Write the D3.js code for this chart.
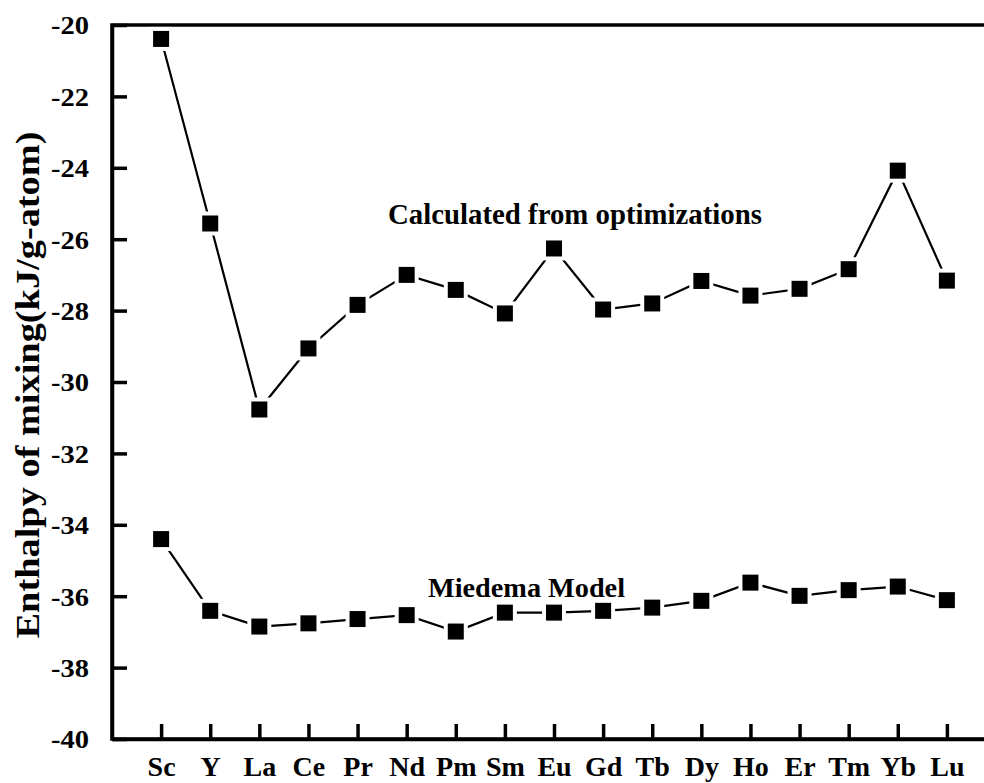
<!DOCTYPE html>
<html>
<head>
<meta charset="utf-8">
<script src="https://cdn.jsdelivr.net/npm/d3@7"></script>
<style>
  body { margin: 0; background: #fff; }
  text { font-family: "Liberation Serif", "Times New Roman", serif; font-weight: bold; fill: #000; }
</style>
</head>
<body>
<svg id="chart" width="984" height="783"></svg>
<script>
// element on the x axis
var elements = ["Sc", "Y", "La", "Ce", "Pr", "Nd", "Pm", "Sm", "Eu", "Gd", "Tb", "Dy", "Ho", "Er", "Tm", "Yb", "Lu"];
// enthalpy values (kJ/g-atom)
var calculated = [-20.39, -25.56, -30.77, -29.06, -27.84, -27.00, -27.42, -28.08, -26.26, -27.97, -27.80, -27.17, -27.58, -27.39, -26.84, -24.08, -27.16];
var miedema = [-34.40, -36.41, -36.85, -36.76, -36.64, -36.53, -36.99, -36.46, -36.46, -36.41, -36.32, -36.13, -35.62, -35.99, -35.83, -35.73, -36.11];
var yTicks = [-40, -38, -36, -34, -32, -30, -28, -26, -24, -22, -20];

var svg = d3.select("#chart");

// plot box (window.top is taken, so names are prefixed)
var plotLeft = 112, plotRight = 996, plotTop = 25, plotBottom = 739;
var MARK = 16; // square marker size

var x = d3.scalePoint().domain(elements).range([plotLeft, plotRight]).padding(1);
var y = d3.scaleLinear().domain([-40, -20]).range([plotBottom, plotTop]);

// frame (right side falls outside the picture)
svg.append("rect")
   .attr("x", plotLeft).attr("y", plotTop)
   .attr("width", plotRight - plotLeft).attr("height", plotBottom - plotTop)
   .attr("fill", "none").attr("stroke", "#000").attr("stroke-width", 3.5);

// y axis, ticks pointing inward; plain hyphen for the minus like the original
var yAxis = svg.append("g")
   .attr("transform", "translate(" + plotLeft + ",0)")
   .call(d3.axisLeft(y).tickValues(yTicks)
          .tickFormat(function(d){ return String(d); })
          .tickSizeInner(-15).tickSizeOuter(0).tickPadding(23));
yAxis.select(".domain").attr("stroke-width", 3.5);
yAxis.selectAll(".tick line").attr("stroke-width", 3.5);
yAxis.selectAll(".tick text")
   .attr("font-size", 26).attr("dy", "0.34em")
   .attr("textLength", 38).attr("lengthAdjust", "spacingAndGlyphs");

// x axis
var xAxis = svg.append("g")
   .attr("transform", "translate(0," + plotBottom + ")")
   .call(d3.axisBottom(x).tickSizeInner(-15).tickSizeOuter(0).tickPadding(17));
xAxis.select(".domain").attr("stroke-width", 3.5);
xAxis.selectAll(".tick line").attr("stroke-width", 3.5);
xAxis.selectAll(".tick text").attr("font-size", 28).attr("dy", "0.71em");

// y axis title
svg.append("text")
   .attr("transform", "translate(39,385) rotate(-90)")
   .attr("text-anchor", "middle")
   .attr("font-size", 34)
   .attr("textLength", 507).attr("lengthAdjust", "spacingAndGlyphs")
   .text("Enthalpy of mixing(kJ/g-atom)");

var line = d3.line()
   .x(function(d, i){ return x(elements[i]); })
   .y(function(d){ return y(d); });

function drawSeries(values){
    var g = svg.append("g");
    g.append("path").datum(values)
     .attr("d", line).attr("fill", "none")
     .attr("stroke", "#000").attr("stroke-width", 2.2);
    // white halo gives the small gap between line and symbol
    g.selectAll("rect.halo").data(values).enter().append("rect")
     .attr("class", "halo")
     .attr("x", function(d, i){ return x(elements[i]) - MARK/2 - 4; })
     .attr("y", function(d){ return y(d) - MARK/2 - 4; })
     .attr("width", MARK + 8).attr("height", MARK + 8)
     .attr("fill", "#fff");
    g.selectAll("rect.mark").data(values).enter().append("rect")
     .attr("class", "mark")
     .attr("x", function(d, i){ return x(elements[i]) - MARK/2; })
     .attr("y", function(d){ return y(d) - MARK/2; })
     .attr("width", MARK).attr("height", MARK)
     .attr("fill", "#000");
}
drawSeries(calculated);
drawSeries(miedema);

// series annotations
svg.append("text")
   .attr("x", 388).attr("y", 224)
   .attr("font-size", 29)
   .attr("textLength", 374).attr("lengthAdjust", "spacingAndGlyphs")
   .text("Calculated from optimizations");
svg.append("text")
   .attr("x", 428).attr("y", 597)
   .attr("font-size", 28)
   .attr("textLength", 197).attr("lengthAdjust", "spacingAndGlyphs")
   .text("Miedema Model");
</script>
</body>
</html>
